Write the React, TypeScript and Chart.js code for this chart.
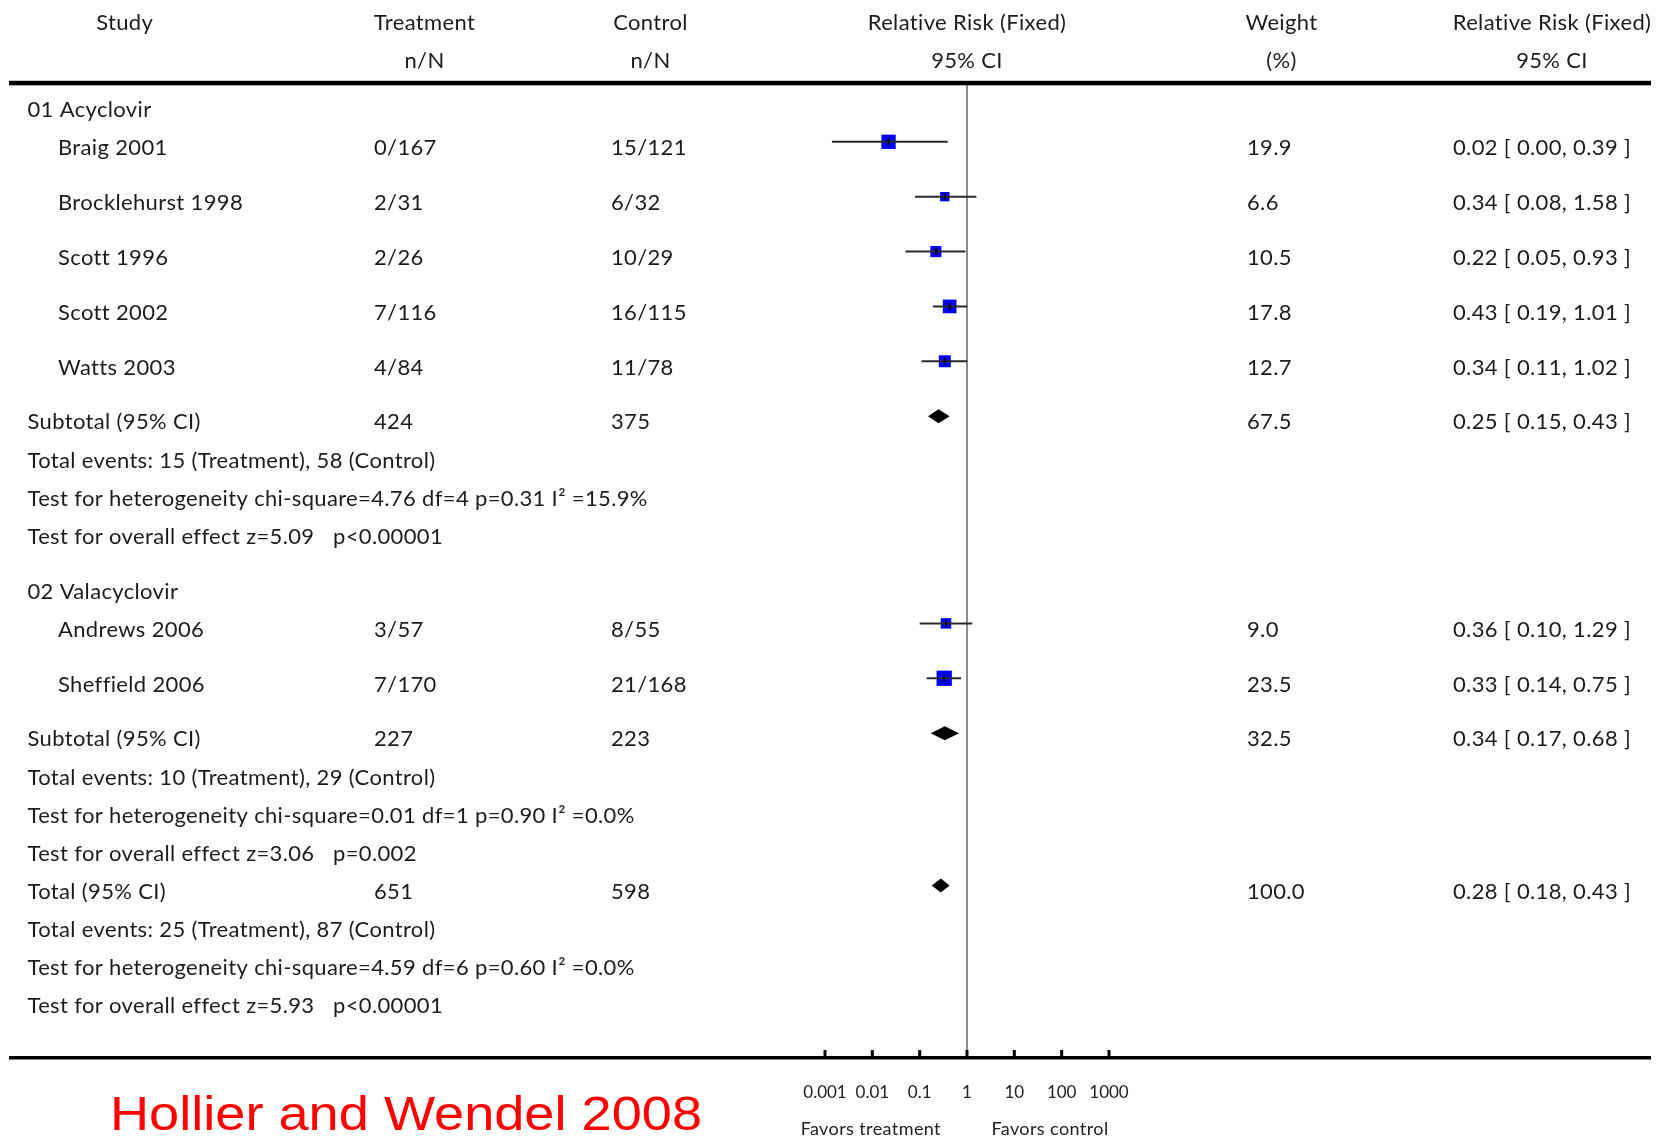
import React, { useEffect, useRef } from 'react';
import { Chart, registerables } from 'chart.js';

Chart.register(...registerables);

// ---------------- DATA ----------------
const groupNames = ['01 Acyclovir', '02 Valacyclovir'];

const studyNames = ['Braig 2001', 'Brocklehurst 1998', 'Scott 1996', 'Scott 2002', 'Watts 2003', 'Andrews 2006', 'Sheffield 2006'];
const studyGroup = [0, 0, 0, 0, 0, 1, 1];
const treatmentNN = ['0/167', '2/31', '2/26', '7/116', '4/84', '3/57', '7/170'];
const controlNN = ['15/121', '6/32', '10/29', '16/115', '11/78', '8/55', '21/168'];
const studyWeight = [19.9, 6.6, 10.5, 17.8, 12.7, 9.0, 23.5];
const studyRR = [0.022, 0.34, 0.22, 0.43, 0.34, 0.36, 0.33];
const studyLow = [0.0014, 0.08, 0.05, 0.19, 0.11, 0.10, 0.14];
const studyHigh = [0.39, 1.58, 0.93, 1.01, 1.02, 1.29, 0.75];

const subTreatN = [424, 227];
const subCtrlN = [375, 223];
const subWeight = [67.5, 32.5];
const subRR = [0.25, 0.34];
const subLow = [0.15, 0.17];
const subHigh = [0.43, 0.68];
const subEventsT = [15, 10];
const subEventsC = [58, 29];
const subHetChi = [4.76, 0.01];
const subHetDf = [4, 1];
const subHetP = [0.31, 0.90];
const subI2 = [15.9, 0.0];
const subZ = [5.09, 3.06];
const subPText = ['p<0.00001', 'p=0.002'];

const totalTreatN = 651;
const totalCtrlN = 598;
const totalWeight = 100.0;
const totalRR = 0.28;
const totalLow = 0.18;
const totalHigh = 0.43;
const totalEventsT = 25;
const totalEventsC = 87;
const totalHetChi = 4.59;
const totalHetDf = 6;
const totalHetP = 0.60;
const totalI2 = 0.0;
const totalZ = 5.93;
const totalPText = 'p<0.00001';

const axisTicks = [0.001, 0.01, 0.1, 1, 10, 100, 1000];
const tickLabels = ['0.001', '0.01', '0.1', '1', '10', '100', '1000'];

const headerTop = ['Study', 'Treatment', 'Control', 'Relative Risk (Fixed)', 'Weight', 'Relative Risk (Fixed)'];
const headerBottom = ['', 'n/N', 'n/N', '95% CI', '(%)', '95% CI'];
const favorsLabels = ['Favors treatment', 'Favors control'];
const titleText = 'Hollier and Wendel 2008';

// ---------------- LAYOUT ----------------
const W = 1657;
const H = 1139;
const HEADER_X = [124.7, 424.5, 650.5, 967, 1281.5, 1552];
const X_GROUP = 27.5;
const X_STUDY = 58;
const X_TREAT = 374;
const X_CTRL = 611;
const X_WEIGHT = 1247;
const X_RR = 1453;
const X_P = 333;
const FAVORS_X = [870.8, 1050];
const LARGE_GAP = 1.44;
const TEXT_FONT = '22px Lato';
const TEXT_SPACING = '0.35px';
const TEXT_COLOR = '#1c1c1c';
const BASELINE_OFFSET = 13.3;

type Row =
  | { kind: 'group'; g: number }
  | { kind: 'study'; i: number }
  | { kind: 'subtotal'; g: number }
  | { kind: 'total' }
  | { kind: 'events'; t: number; c: number }
  | { kind: 'het'; chi: number; df: number; p: number; i2: number }
  | { kind: 'overall'; z: number; p: string };

function buildRows(): Row[] {
  const rows: Row[] = [];
  groupNames.forEach((_, g) => {
    rows.push({ kind: 'group', g });
    studyNames.forEach((__, i) => {
      if (studyGroup[i] === g) rows.push({ kind: 'study', i });
    });
    rows.push({ kind: 'subtotal', g });
    rows.push({ kind: 'events', t: subEventsT[g], c: subEventsC[g] });
    rows.push({ kind: 'het', chi: subHetChi[g], df: subHetDf[g], p: subHetP[g], i2: subI2[g] });
    rows.push({ kind: 'overall', z: subZ[g], p: subPText[g] });
  });
  rows.push({ kind: 'total' });
  rows.push({ kind: 'events', t: totalEventsT, c: totalEventsC });
  rows.push({ kind: 'het', chi: totalHetChi, df: totalHetDf, p: totalHetP, i2: totalI2 });
  rows.push({ kind: 'overall', z: totalZ, p: totalPText });
  return rows;
}

const rows = buildRows();
const rowPos: number[] = [];
rows.forEach((r, k) => {
  if (k === 0) { rowPos.push(0); return; }
  const prev = rows[k - 1];
  const large =
    (r.kind === 'study' && prev.kind === 'study') ||
    r.kind === 'subtotal' ||
    (r.kind === 'group' && k > 0);
  rowPos.push(rowPos[k - 1] + (large ? LARGE_GAP : 1));
});

const Y_MIN = -0.57;
const Y_MAX = 25.02;

function squareRadius(w: number) {
  const side = 2.6 * Math.sqrt(w) + 2.7;
  return side / Math.SQRT2;
}

const squarePoints = rows
  .map((r, k) => (r.kind === 'study' ? { x: studyRR[r.i], y: rowPos[k] } : null))
  .filter((p) => p !== null) as { x: number; y: number }[];
const squareRadii = rows
  .filter((r) => r.kind === 'study')
  .map((r: any) => squareRadius(studyWeight[r.i]));

const rrText = (rr: number, lo: number, hi: number) => `${rr.toFixed(2)} [ ${lo.toFixed(2)}, ${hi.toFixed(2)} ]`;

const forestPlugin = {
  id: 'forest',
  beforeDatasetsDraw(chart: any) {
    const { ctx, chartArea, scales } = chart;
    const x1 = scales.x.getPixelForValue(1);
    ctx.save();
    ctx.strokeStyle = '#8c8c8c';
    ctx.lineWidth = 2;
    ctx.beginPath();
    ctx.moveTo(x1, chartArea.top);
    ctx.lineTo(x1, chartArea.bottom);
    ctx.stroke();
    ctx.restore();
  },
  afterDatasetsDraw(chart: any) {
    const { ctx, chartArea, scales } = chart;
    const xs = scales.x;
    const ys = scales.y;
    ctx.save();

    // CI lines + center ticks for studies
    rows.forEach((r, k) => {
      if (r.kind !== 'study') return;
      const y = ys.getPixelForValue(rowPos[k]);
      const xl = xs.getPixelForValue(studyLow[r.i]);
      const xh = xs.getPixelForValue(studyHigh[r.i]);
      const xc = xs.getPixelForValue(studyRR[r.i]);
      ctx.strokeStyle = '#2a2a2a';
      ctx.lineWidth = 2;
      ctx.beginPath();
      ctx.moveTo(xl, y);
      ctx.lineTo(xh, y);
      ctx.stroke();
      ctx.strokeStyle = '#000';
      ctx.beginPath();
      ctx.moveTo(xc, y - 3.5);
      ctx.lineTo(xc, y + 3.5);
      ctx.stroke();
    });

    // diamonds
    const diamond = (rr: number, lo: number, hi: number, u: number) => {
      const y = ys.getPixelForValue(u);
      ctx.fillStyle = '#000';
      ctx.beginPath();
      ctx.moveTo(xs.getPixelForValue(lo), y);
      ctx.lineTo(xs.getPixelForValue(rr), y - 7);
      ctx.lineTo(xs.getPixelForValue(hi), y);
      ctx.lineTo(xs.getPixelForValue(rr), y + 7);
      ctx.closePath();
      ctx.fill();
    };
    rows.forEach((r, k) => {
      if (r.kind === 'subtotal') diamond(subRR[r.g], subLow[r.g], subHigh[r.g], rowPos[k]);
      if (r.kind === 'total') diamond(totalRR, totalLow, totalHigh, rowPos[k]);
    });

    // horizontal rules
    ctx.fillStyle = '#000';
    ctx.fillRect(9, 80.8, W - 9 - 6, 4.5);
    ctx.fillRect(9, chartArea.bottom - 1, W - 9 - 6, 3.5);

    // axis tick marks (inward)
    axisTicks.forEach((v) => {
      const x = xs.getPixelForValue(v);
      ctx.fillRect(x - 1.5, chartArea.bottom - 7, 3, 7);
    });

    // table text
    ctx.fillStyle = TEXT_COLOR;
    ctx.font = TEXT_FONT;
    (ctx as any).letterSpacing = TEXT_SPACING;
    ctx.textBaseline = 'alphabetic';
    ctx.textAlign = 'center';
    headerTop.forEach((t, i) => ctx.fillText(t, HEADER_X[i], 30));
    headerBottom.forEach((t, i) => ctx.fillText(t, HEADER_X[i], 68));

    ctx.textAlign = 'left';
    rows.forEach((r, k) => {
      const yb = ys.getPixelForValue(rowPos[k]) + BASELINE_OFFSET;
      switch (r.kind) {
        case 'group':
          ctx.fillText(groupNames[r.g], X_GROUP, yb);
          break;
        case 'study':
          ctx.fillText(studyNames[r.i], X_STUDY, yb);
          ctx.fillText(treatmentNN[r.i], X_TREAT, yb);
          ctx.fillText(controlNN[r.i], X_CTRL, yb);
          ctx.fillText(studyWeight[r.i].toFixed(1), X_WEIGHT, yb);
          ctx.fillText(rrText(studyRR[r.i], studyLow[r.i], studyHigh[r.i]), X_RR, yb);
          break;
        case 'subtotal':
          ctx.fillText('Subtotal (95% CI)', X_GROUP, yb);
          ctx.fillText(String(subTreatN[r.g]), X_TREAT, yb);
          ctx.fillText(String(subCtrlN[r.g]), X_CTRL, yb);
          ctx.fillText(subWeight[r.g].toFixed(1), X_WEIGHT, yb);
          ctx.fillText(rrText(subRR[r.g], subLow[r.g], subHigh[r.g]), X_RR, yb);
          break;
        case 'total':
          ctx.fillText('Total (95% CI)', X_GROUP, yb);
          ctx.fillText(String(totalTreatN), X_TREAT, yb);
          ctx.fillText(String(totalCtrlN), X_CTRL, yb);
          ctx.fillText(totalWeight.toFixed(1), X_WEIGHT, yb);
          ctx.fillText(rrText(totalRR, totalLow, totalHigh), X_RR, yb);
          break;
        case 'events':
          ctx.fillText(`Total events: ${r.t} (Treatment), ${r.c} (Control)`, X_GROUP, yb);
          break;
        case 'het':
          ctx.fillText(
            `Test for heterogeneity chi-square=${r.chi.toFixed(2)} df=${r.df} p=${r.p.toFixed(2)} I\u00B2 =${r.i2.toFixed(1)}%`,
            X_GROUP,
            yb
          );
          break;
        case 'overall':
          ctx.fillText(`Test for overall effect z=${r.z.toFixed(2)}`, X_GROUP, yb);
          ctx.fillText(r.p, X_P, yb);
          break;
      }
    });

    // favors labels
    ctx.font = '18px Lato';
    (ctx as any).letterSpacing = '0.4px';
    ctx.textAlign = 'center';
    ctx.fillStyle = '#222';
    favorsLabels.forEach((t, i) => ctx.fillText(t, FAVORS_X[i], 1135));

    // title
    (ctx as any).letterSpacing = '0px';
    ctx.font = '48px "Liberation Sans"';
    ctx.textAlign = 'left';
    ctx.fillStyle = '#ff0000';
    const tw = ctx.measureText(titleText).width;
    ctx.translate(110, 1130);
    ctx.scale(592 / tw, 1);
    ctx.fillText(titleText, 0, 0);

    ctx.restore();
  },
};

export default function App() {
  const ref = useRef<HTMLCanvasElement>(null);
  useEffect(() => {
    if (!ref.current) return;
    const chart = new Chart(ref.current, {
      type: 'scatter',
      data: {
        datasets: [
          {
            label: 'Studies',
            data: squarePoints,
            pointStyle: 'rect',
            pointRadius: squareRadii,
            pointHoverRadius: squareRadii,
            backgroundColor: '#0000ff',
            borderColor: '#0000ff',
            borderWidth: 0,
            showLine: false,
          },
        ],
      },
      options: {
        animation: false,
        responsive: false,
        events: [],
        layout: { padding: { left: 825, right: W - 1109, top: 82, bottom: 0 } },
        plugins: { legend: { display: false }, tooltip: { enabled: false }, title: { display: false } },
        scales: {
          x: {
            type: 'logarithmic',
            min: 0.001,
            max: 1000,
            afterBuildTicks: (s: any) => {
              s.ticks = axisTicks.map((v) => ({ value: v }));
            },
            afterFit: (s: any) => {
              s.height = 82;
            },
            grid: { display: false, drawTicks: false },
            border: { display: false },
            ticks: {
              autoSkip: false,
              maxRotation: 0,
              padding: 25,
              color: '#222',
              font: { family: 'Lato', size: 17 },
              callback: (_v: any, i: number) => tickLabels[i],
            },
          },
          y: { type: 'linear', min: Y_MIN, max: Y_MAX, reverse: true, display: false },
        },
      },
      plugins: [forestPlugin],
    } as any);
    return () => chart.destroy();
  }, []);
  return (
    <div style={{ position: 'absolute', left: 0, top: 0, width: W, height: H, background: '#fff' }}>
      <canvas ref={ref} width={W} height={H} style={{ display: 'block', width: W, height: H }} />
    </div>
  );
}
